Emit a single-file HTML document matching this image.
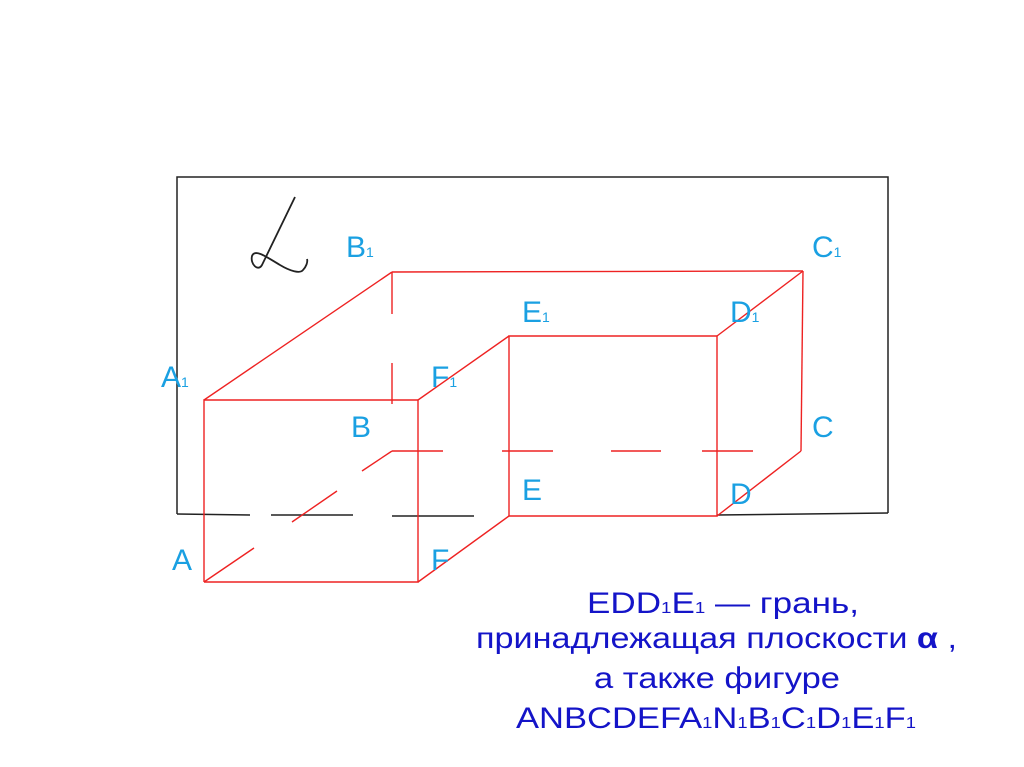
<!DOCTYPE html>
<html><head><meta charset="utf-8"><style>
html,body{margin:0;padding:0;background:#fff;}
svg{display:block;}
.l{font-family:"Liberation Sans",Arial,sans-serif;fill:#1aa0e2;font-size:30px;}
.l tspan.s{font-size:14px;}
.t{font-family:"Liberation Sans",Arial,sans-serif;fill:#1414c8;font-size:30px;}
.t tspan.s{font-size:16px;}
</style></head><body>
<svg width="1024" height="767" viewBox="0 0 1024 767" xmlns="http://www.w3.org/2000/svg">
<rect width="1024" height="767" fill="#fff"/>
<g stroke="#222" stroke-width="1.5" fill="none">
<polyline points="177,514 177,177 888,177 888,513"/>
<line x1="177" y1="514" x2="250" y2="515"/>
<line x1="271" y1="515" x2="353" y2="515"/>
<line x1="392" y1="516" x2="474" y2="516"/>
<line x1="717" y1="515" x2="888" y2="513"/>
<path d="M295,197 L262,265 C258,272 250,264 252,256 C255,248 268,258 280,265 C290,271 300,274 303,270 C306,267 308,262 307,259" stroke-width="1.8"/>
</g>
<g stroke="#ee2222" stroke-width="1.4" fill="none">
<polyline points="204,582 418,582 418,400 204,400 204,582"/>
<line x1="204" y1="400" x2="392" y2="272"/>
<line x1="392" y1="272" x2="803" y2="271"/>
<line x1="418" y1="400" x2="509" y2="336"/>
<line x1="418" y1="582" x2="509" y2="516"/>
<polyline points="509,516 509,336 717,336 717,516 509,516"/>
<line x1="717" y1="336" x2="803" y2="271"/>
<line x1="803" y1="271" x2="801" y2="451"/>
<line x1="801" y1="451" x2="717" y2="516"/>
<line x1="392" y1="272" x2="392" y2="314"/>
<line x1="392" y1="363" x2="392" y2="404"/>
<line x1="392" y1="451" x2="443" y2="451"/>
<line x1="502" y1="451" x2="553" y2="451"/>
<line x1="611" y1="451" x2="661" y2="451"/>
<line x1="702" y1="451" x2="753" y2="451"/>
<line x1="204" y1="582" x2="254" y2="548"/>
<line x1="292" y1="522" x2="337" y2="491"/>
<line x1="362" y1="471" x2="392" y2="451"/>
</g>
<g class="l">
<text x="346" y="257">B<tspan class="s">1</tspan></text>
<text x="812" y="257">C<tspan class="s">1</tspan></text>
<text x="522" y="322">E<tspan class="s">1</tspan></text>
<text x="730" y="322">D<tspan class="s">1</tspan></text>
<text x="161" y="387">A<tspan class="s">1</tspan></text>
<text x="431" y="387">F<tspan class="s">1</tspan></text>
<text x="351" y="437">B</text>
<text x="812" y="437">C</text>
<text x="522" y="500">E</text>
<text x="730" y="504">D</text>
<text x="172" y="570">A</text>
<text x="431" y="570">F</text>
</g>
<g class="t">
<text x="587" y="613" textLength="272" lengthAdjust="spacingAndGlyphs">EDD<tspan class="s">1</tspan>E<tspan class="s">1</tspan> — грань,</text>
<text x="476" y="648" textLength="481" lengthAdjust="spacingAndGlyphs">принадлежащая плоскости <tspan font-weight="bold">α</tspan> ,</text>
<text x="594" y="688" textLength="246" lengthAdjust="spacingAndGlyphs">а также фигуре</text>
<text x="516" y="728" textLength="400" lengthAdjust="spacingAndGlyphs">ANBCDEFA<tspan class="s">1</tspan>N<tspan class="s">1</tspan>B<tspan class="s">1</tspan>C<tspan class="s">1</tspan>D<tspan class="s">1</tspan>E<tspan class="s">1</tspan>F<tspan class="s">1</tspan></text>
</g>
</svg>
</body></html>
